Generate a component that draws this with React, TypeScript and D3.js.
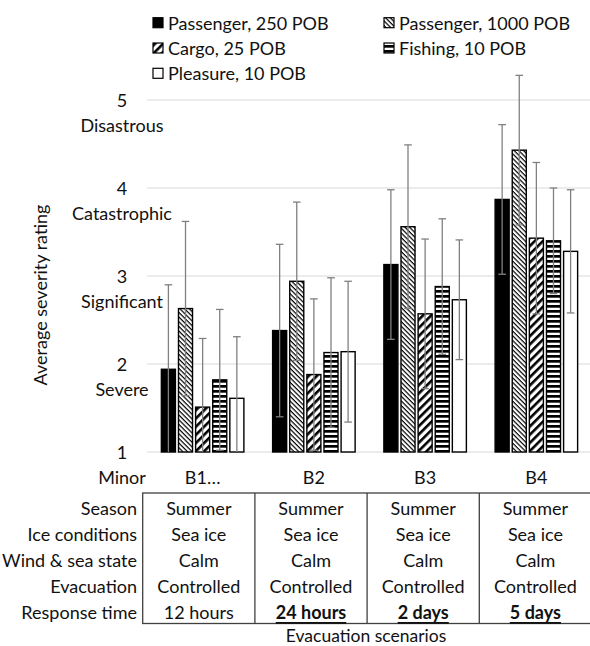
import React from "react";
import * as d3 from "d3";

const scenarios = ["B1…", "B2", "B3", "B4"];
const seriesNames = [
  "Passenger, 250 POB",
  "Passenger, 1000 POB",
  "Cargo, 25 POB",
  "Fishing, 10 POB",
  "Pleasure, 10 POB",
];
const passenger250 = [1.94, 2.38, 3.13, 3.87];
const passenger1000 = [2.63, 2.94, 3.56, 4.43];
const cargo25 = [1.51, 1.88, 2.57, 3.43];
const fishing10 = [1.82, 2.13, 2.88, 3.4];
const pleasure10 = [1.61, 2.14, 2.73, 3.28];
const passenger250Err = [0.96, 0.98, 0.85, 0.85];
const passenger1000Err = [0.99, 0.9, 0.93, 0.85];
const cargo25Err = [0.78, 0.86, 0.85, 0.86];
const fishing10Err = [0.8, 0.85, 0.77, 0.6];
const pleasure10Err = [0.7, 0.8, 0.68, 0.7];
const yTicks = [1, 2, 3, 4, 5];
const yTickNames = ["Minor", "Severe", "Significant", "Catastrophic", "Disastrous"];
const rowLabels = ["Season", "Ice conditions", "Wind & sea state", "Evacuation", "Response time"];
const seasons = ["Summer", "Summer", "Summer", "Summer"];
const iceConditions = ["Sea ice", "Sea ice", "Sea ice", "Sea ice"];
const windSea = ["Calm", "Calm", "Calm", "Calm"];
const evacuation = ["Controlled", "Controlled", "Controlled", "Controlled"];
const responseTime = ["12 hours", "24 hours", "2 days", "5 days"];
const responseBold = [false, true, true, true];

const values = [passenger250, passenger1000, cargo25, fishing10, pleasure10];
const errors = [passenger250Err, passenger1000Err, cargo25Err, fishing10Err, pleasure10Err];
const fills = ["#000", "url(#pDown)", "url(#pUp)", "url(#pHoriz)", "#fff"];
const FONT = "Lato, 'Open Sans', sans-serif";
const TXT = "#111";

export default function App() {
  const W = 590, H = 646;
  const x0 = d3.scaleBand<string>().domain(scenarios).range([147, 592]).paddingInner(0).paddingOuter(0);
  const groupW = 82.5;
  const x1 = d3
    .scaleBand<number>()
    .domain(d3.range(seriesNames.length))
    .range([0, groupW])
    .paddingInner(0.18);
  const y = d3.scaleLinear().domain([1, 5]).range([452, 100]);
  const plotLeft = 147, plotRight = 592;
  const tableCols = d3.scaleBand<string>().domain(scenarios).range([142.7, 591.5]);
  const tableTop = 493, tableBottom = 623.5;
  const rowY = d3.scaleLinear().domain([0, 4]).range([508, 612]);
  const tableData = [seasons, iceConditions, windSea, evacuation, responseTime];
  const fs = 18;

  return (
    <svg width={W} height={H} style={{ position: "absolute", left: 0, top: 0, background: "#fff" }} fontFamily={FONT}>
      <defs>
        <pattern id="pDown" patternUnits="userSpaceOnUse" width="8" height="3.3" patternTransform="rotate(45)">
          <rect width="8" height="3.3" fill="#fff" />
          <rect width="8" height="1.2" fill="#000" />
        </pattern>
        <pattern id="pUp" patternUnits="userSpaceOnUse" width="8" height="5.8" patternTransform="rotate(-45)">
          <rect width="8" height="5.8" fill="#fff" />
          <rect width="8" height="2.6" fill="#000" />
        </pattern>
        <pattern id="pHoriz" patternUnits="userSpaceOnUse" width="8" height="5">
          <rect width="8" height="5" fill="#fff" />
          <rect width="8" height="2.7" fill="#000" />
        </pattern>
        <clipPath id="plotClip">
          <rect x={plotLeft} y={0} width={plotRight - plotLeft} height={y(1)} />
        </clipPath>
      </defs>

      {/* gridlines */}
      {yTicks.map((t) => (
        <line key={t} x1={plotLeft} x2={plotRight} y1={y(t)} y2={y(t)} stroke="#d9d9d9" strokeWidth={1.2} />
      ))}

      {/* y tick labels */}
      {yTicks.map((t, i) => (
        <g key={"yl" + t}>
          <text x={122} y={y(t)} textAnchor="middle" dominantBaseline="central" fontSize={fs} fill={TXT}>
            {t}
          </text>
          <text x={122} y={y(t) + 24.5} textAnchor="middle" dominantBaseline="central" fontSize={fs} fill={TXT}>
            {yTickNames[i]}
          </text>
        </g>
      ))}

      <text
        transform={`translate(40,295) rotate(-90)`}
        textAnchor="middle"
        dominantBaseline="central"
        fontSize={fs}
        fill={TXT}
      >
        Average severity rating
      </text>

      {/* bars */}
      {scenarios.map((s, gi) => {
        const gx = (x0(s) as number) + (x0.bandwidth() - groupW) / 2;
        return (
          <g key={s} transform={`translate(${gx},0)`}>
            {values.map((vals, si) => {
              const bx = x1(si) as number;
              const bw = x1.bandwidth();
              const v = vals[gi];
              return (
                <rect
                  key={si}
                  x={bx}
                  y={y(v)}
                  width={bw}
                  height={y(1) - y(v)}
                  fill={fills[si]}
                  stroke="#000"
                  strokeWidth={1.4}
                />
              );
            })}
          </g>
        );
      })}

      {/* error bars */}
      <g clipPath="url(#plotClip)">
        {scenarios.map((s, gi) => {
          const gx = (x0(s) as number) + (x0.bandwidth() - groupW) / 2;
          return (
            <g key={"e" + s} transform={`translate(${gx},0)`}>
              {values.map((vals, si) => {
                const cx = (x1(si) as number) + x1.bandwidth() / 2;
                const v = vals[gi];
                const e = errors[si][gi];
                const yt = y(v + e), yb = y(v - e);
                return (
                  <g key={si} stroke="#808080" strokeWidth={1.3}>
                    <line x1={cx} x2={cx} y1={yt} y2={yb} />
                    <line x1={cx - 3.8} x2={cx + 3.8} y1={yt} y2={yt} />
                    <line x1={cx - 3.8} x2={cx + 3.8} y1={yb} y2={yb} />
                  </g>
                );
              })}
            </g>
          );
        })}
      </g>

      {/* category labels */}
      {scenarios.map((s) => (
        <text
          key={"c" + s}
          x={(x0(s) as number) + x0.bandwidth() / 2}
          y={477}
          textAnchor="middle"
          dominantBaseline="central"
          fontSize={fs}
          fill={TXT}
        >
          {s}
        </text>
      ))}

      {/* legend */}
      {seriesNames.map((name, i) => {
        const col = i % 2;
        const row = Math.floor(i / 2);
        const lx = col === 0 ? 153 : 384;
        const ly = 22.7 + row * 25.3;
        return (
          <g key={"lg" + i}>
            <rect x={lx} y={ly - 5} width={10} height={10} fill={fills[i]} stroke="#000" strokeWidth={1.2} />
            <text x={lx + 15} y={ly} dominantBaseline="central" fontSize={fs} fill={TXT}>
              {name}
            </text>
          </g>
        );
      })}

      {/* table */}
      <g stroke="#404040" strokeWidth={1.3} fill="none">
        <rect x={142.7} y={tableTop} width={591.5 - 142.7} height={tableBottom - tableTop} />
        {scenarios.slice(1).map((s) => (
          <line key={"tv" + s} x1={tableCols(s)} x2={tableCols(s)} y1={tableTop} y2={tableBottom} />
        ))}
      </g>
      {rowLabels.map((r, ri) => (
        <text key={"rl" + r} x={137} y={rowY(ri)} textAnchor="end" dominantBaseline="central" fontSize={fs} fill={TXT}>
          {r}
        </text>
      ))}
      {tableData.map((row, ri) =>
        row.map((cell, ci) => {
          const bold = ri === 4 && responseBold[ci];
          return (
            <text
              key={`cell${ri}-${ci}`}
              x={(tableCols(scenarios[ci]) as number) + tableCols.bandwidth() / 2}
              y={rowY(ri)}
              textAnchor="middle"
              dominantBaseline="central"
              fontSize={fs}
              fontWeight={bold ? 700 : 400}
              textDecoration={bold ? "underline" : "none"}
              fill={TXT}
            >
              {cell}
            </text>
          );
        })
      )}
      <text x={366} y={635} textAnchor="middle" dominantBaseline="central" fontSize={17.5} fill={TXT}>
        Evacuation scenarios
      </text>
    </svg>
  );
}
